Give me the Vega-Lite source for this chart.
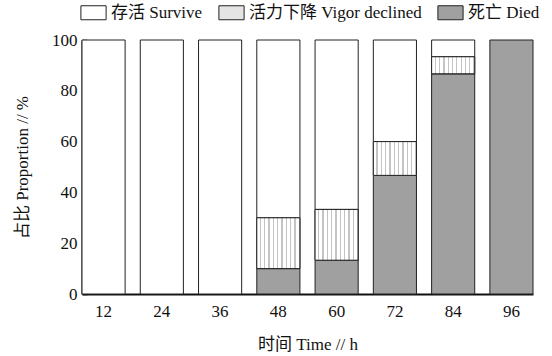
{
  "$schema": "https://vega.github.io/schema/vega-lite/v6.json",
  "width": 451,
  "height": 254,
  "autosize": {"type": "none"},
  "padding": {"left": 82, "top": 40, "right": 19, "bottom": 62},
  "background": "white",
  "config": {
    "view": {"stroke": null},
    "font": "Liberation Serif",
    "axis": {
      "labelFont": "Liberation Serif",
      "labelFontSize": 17,
      "labelColor": "#111",
      "titleFont": "Liberation Serif, Noto Sans CJK SC",
      "titleFontSize": 17,
      "titleFontWeight": "normal",
      "titleColor": "#111",
      "domainColor": "#111",
      "domainWidth": 2,
      "tickColor": "#111",
      "grid": false
    },
    "legend": {
      "labelFont": "Liberation Serif, Noto Sans CJK SC",
      "labelFontSize": 17,
      "labelColor": "#111",
      "labelLimit": 0
    }
  },
  "data": {
    "values": [
      {"time": "12", "cat": "存活 Survive", "k": 3, "value": 100},
      {"time": "24", "cat": "存活 Survive", "k": 3, "value": 100},
      {"time": "36", "cat": "存活 Survive", "k": 3, "value": 100},
      {"time": "48", "cat": "死亡 Died", "k": 1, "value": 10},
      {"time": "48", "cat": "活力下降 Vigor declined", "k": 2, "value": 20},
      {"time": "48", "cat": "存活 Survive", "k": 3, "value": 70},
      {"time": "60", "cat": "死亡 Died", "k": 1, "value": 13.3},
      {"time": "60", "cat": "活力下降 Vigor declined", "k": 2, "value": 20},
      {"time": "60", "cat": "存活 Survive", "k": 3, "value": 66.7},
      {"time": "72", "cat": "死亡 Died", "k": 1, "value": 46.7},
      {"time": "72", "cat": "活力下降 Vigor declined", "k": 2, "value": 13.3},
      {"time": "72", "cat": "存活 Survive", "k": 3, "value": 40},
      {"time": "84", "cat": "死亡 Died", "k": 1, "value": 86.7},
      {"time": "84", "cat": "活力下降 Vigor declined", "k": 2, "value": 6.7},
      {"time": "84", "cat": "存活 Survive", "k": 3, "value": 6.6},
      {"time": "96", "cat": "死亡 Died", "k": 1, "value": 100}
    ]
  },
  "transform": [
    {"stack": "value", "groupby": ["time"], "sort": [{"field": "k", "order": "ascending"}], "as": ["v0", "v1"]}
  ],
  "encoding": {
    "x": {
      "field": "time",
      "type": "ordinal",
      "sort": null,
      "scale": {"paddingInner": 0.26, "paddingOuter": 0},
      "axis": {"title": "时间 Time // h", "ticks": false, "labelAngle": 0, "labelPadding": 9, "titlePadding": 17}
    },
    "y": {
      "field": "v0",
      "type": "quantitative",
      "scale": {"domain": [0, 100], "nice": false},
      "axis": {"title": "占比 Proportion // %", "values": [0, 20, 40, 60, 80, 100], "tickSize": -5, "tickWidth": 1.5, "labelPadding": 10, "titlePadding": 20}
    },
    "y2": {"field": "v1"}
  },
  "layer": [
    {
      "mark": {"type": "bar", "stroke": "#222", "strokeWidth": 1, "opacity": 1},
      "encoding": {
        "color": {
          "field": "cat",
          "type": "nominal",
          "scale": {"domain": ["存活 Survive", "活力下降 Vigor declined", "死亡 Died"], "range": ["#ffffff", "#e4e4e4", "#a0a0a0"]},
          "legend": {
            "title": null,
            "orient": "none",
            "legendX": 3,
            "legendY": -36,
            "direction": "horizontal",
            "columns": 3,
            "symbolType": "M-1.8,-1L1.8,-1L1.8,1L-1.8,1Z",
            "symbolSize": 196,
            "symbolStrokeColor": "#222",
            "symbolStrokeWidth": 1,
            "symbolOpacity": 1,
            "labelOffset": 9,
            "columnPadding": 13
          }
        }
      }
    },
    {
      "transform": [{"filter": "datum.k == 2"}],
      "mark": {
        "type": "bar",
        "stroke": "#222",
        "strokeWidth": 1,
        "fill": {
          "gradient": "linear", "x1": 0, "y1": 0, "x2": 1, "y2": 0,
          "stops": [
            {"offset": 0, "color": "#ffffff"}, {"offset": 0.07, "color": "#ffffff"}, {"offset": 0.07, "color": "#c4c4c4"}, {"offset": 0.1, "color": "#c4c4c4"},
            {"offset": 0.1, "color": "#ffffff"}, {"offset": 0.17, "color": "#ffffff"}, {"offset": 0.17, "color": "#c4c4c4"}, {"offset": 0.2, "color": "#c4c4c4"},
            {"offset": 0.2, "color": "#ffffff"}, {"offset": 0.27, "color": "#ffffff"}, {"offset": 0.27, "color": "#c4c4c4"}, {"offset": 0.3, "color": "#c4c4c4"},
            {"offset": 0.3, "color": "#ffffff"}, {"offset": 0.37, "color": "#ffffff"}, {"offset": 0.37, "color": "#c4c4c4"}, {"offset": 0.4, "color": "#c4c4c4"},
            {"offset": 0.4, "color": "#ffffff"}, {"offset": 0.47, "color": "#ffffff"}, {"offset": 0.47, "color": "#c4c4c4"}, {"offset": 0.5, "color": "#c4c4c4"},
            {"offset": 0.5, "color": "#ffffff"}, {"offset": 0.57, "color": "#ffffff"}, {"offset": 0.57, "color": "#c4c4c4"}, {"offset": 0.6, "color": "#c4c4c4"},
            {"offset": 0.6, "color": "#ffffff"}, {"offset": 0.67, "color": "#ffffff"}, {"offset": 0.67, "color": "#c4c4c4"}, {"offset": 0.7, "color": "#c4c4c4"},
            {"offset": 0.7, "color": "#ffffff"}, {"offset": 0.77, "color": "#ffffff"}, {"offset": 0.77, "color": "#c4c4c4"}, {"offset": 0.8, "color": "#c4c4c4"},
            {"offset": 0.8, "color": "#ffffff"}, {"offset": 0.87, "color": "#ffffff"}, {"offset": 0.87, "color": "#c4c4c4"}, {"offset": 0.9, "color": "#c4c4c4"},
            {"offset": 0.9, "color": "#ffffff"}, {"offset": 0.97, "color": "#ffffff"}, {"offset": 0.97, "color": "#c4c4c4"}, {"offset": 1, "color": "#c4c4c4"}
          ]
        }
      }
    }
  ]
}
